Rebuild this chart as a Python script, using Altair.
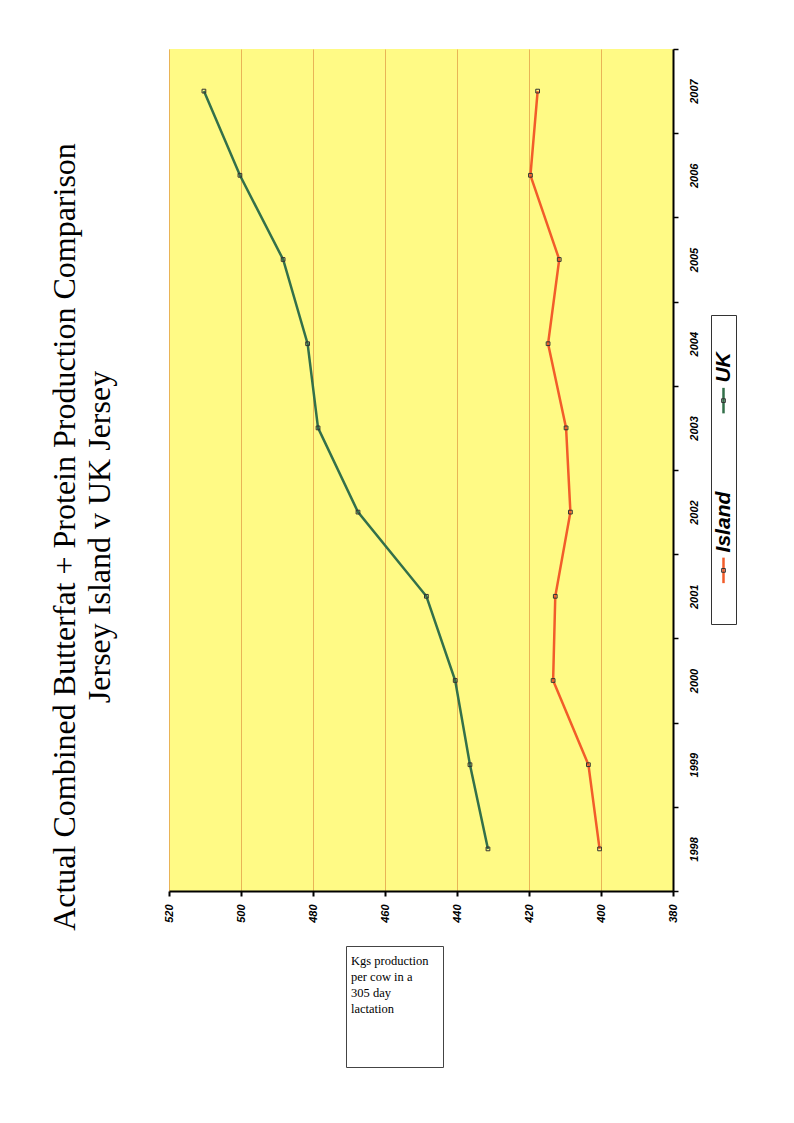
import altair as alt
import pandas as pd

# ---- data ----
years = ["1998", "1999", "2000", "2001", "2002", "2003", "2004", "2005", "2006", "2007"]
uk_values = [431.4, 436.4, 440.5, 448.5, 467.5, 478.6, 481.5, 488.3, 500.3, 510.3]
island_values = [400.4, 403.5, 413.3, 412.7, 408.5, 409.7, 414.7, 411.6, 419.6, 417.6]
series_names = ["Island", "UK"]
series_colors = ["#F25C2A", "#33704A"]
legend_order = ["UK", "Island"]
value_ticks = [380, 400, 420, 440, 460, 480, 500, 520]
title_lines = ["Actual Combined Butterfat + Protein Production Comparison",
               "Jersey Island v UK Jersey"]
note_text = "Kgs production\nper cow in a\n305 day\nlactation"

rows = []
for yr, u, i in zip(years, uk_values, island_values):
    rows.append({"year": yr, "series": "Island", "value": i})
    rows.append({"year": yr, "series": "UK", "value": u})
df = pd.DataFrame(rows)

color_scale = alt.Scale(domain=series_names, range=series_colors)
lab = dict(labelFont="Liberation Sans", labelFontSize=11, labelFontWeight="bold",
           labelFontStyle="italic", labelColor="black")

x_enc = alt.X(
    "value:Q",
    scale=alt.Scale(domain=[380, 520], reverse=True, nice=False, zero=False),
    axis=alt.Axis(values=value_ticks, labelAngle=270, labelAlign="right",
                  labelBaseline="middle", labelPadding=8, domainColor="black",
                  domainWidth=2, tickColor="black", tickWidth=2, tickSize=5,
                  grid=True, gridColor="#E3A24A", gridWidth=0.8, title=None, **lab),
)
y_enc = alt.Y(
    "year:N", sort="descending", bandPosition=0.5,
    scale=alt.Scale(type="band", paddingInner=0, paddingOuter=0),
    axis=alt.Axis(orient="right", labelAngle=270, labelAlign="center",
                  labelBaseline="top", labelPadding=10, tickBand="extent",
                  domainColor="black", domainWidth=2, tickColor="black",
                  tickWidth=1.5, tickSize=5, grid=False, title=None, **lab),
)

lines = alt.Chart().mark_line(strokeWidth=2.5).encode(
    x=x_enc, y=y_enc,
    color=alt.Color("series:N", scale=color_scale, legend=None),
    detail="series:N",
)
markers = alt.Chart().mark_point(shape="square", size=14, filled=False,
                                 color="#333333", strokeWidth=1, opacity=1).encode(
    x=alt.X("value:Q"), y=alt.Y("year:N", sort="descending", bandPosition=0.5),
    detail="series:N",
)

main = alt.layer(lines, markers, data=df).properties(
    width=504, height=842,
    view=alt.ViewBackground(fill="#FFFA85", stroke=None),
    title=alt.TitleParams(title_lines, orient="left", anchor="middle",
                          font="Liberation Serif", fontSize=32, fontWeight="normal",
                          color="black", lineHeight=35, offset=46, dx=-67),
)

# ---- rotated legend ----
leg_df = pd.DataFrame({"series": legend_order})
leg_y = alt.Y("series:N", sort=legend_order, axis=None,
              scale=alt.Scale(type="point", padding=0.41))
leg_sym = alt.Chart().mark_point(shape="M0,-1L0,1", size=650, filled=False,
                                 strokeWidth=2.5, opacity=1, yOffset=16).encode(
    y=leg_y, color=alt.Color("series:N", scale=color_scale, legend=None))
leg_box = alt.Chart().mark_point(shape="square", size=14, filled=False,
                                 color="#333333", strokeWidth=1, opacity=1,
                                 yOffset=16).encode(y=leg_y)
leg_txt = alt.Chart().mark_text(angle=270, align="left", baseline="middle",
                                font="Liberation Sans", fontSize=21,
                                fontWeight="bold", fontStyle="italic",
                                color="black", yOffset=-2).encode(
    y=leg_y, text="series:N")
legend = alt.layer(leg_sym, leg_box, leg_txt, data=leg_df).properties(
    width=25, height=309,
    view=alt.ViewBackground(fill="white", stroke="#333333", strokeWidth=1))

blank = pd.DataFrame({"t": [""]})
leg_spacer = alt.Chart(blank).mark_text().encode(text="t:N").properties(
    width=25, height=265, view=alt.ViewBackground(stroke=None))
legend_col = alt.vconcat(leg_spacer, legend, spacing=0)

# ---- note box ----
note = alt.Chart(pd.DataFrame({"t": [note_text]})).mark_text(
    align="left", baseline="alphabetic", font="Liberation Serif", fontSize=12.5,
    lineHeight=16, lineBreak="\n", color="black").encode(
    text="t:N", x=alt.value(5), y=alt.value(19)).properties(
    width=97, height=121,
    view=alt.ViewBackground(fill="white", stroke="#444444", strokeWidth=1))
note_spacer = alt.Chart(blank).mark_text().encode(text="t:N").properties(
    width=161, height=20, view=alt.ViewBackground(stroke=None))

row1 = alt.hconcat(main, legend_col, spacing=11)
row2 = alt.hconcat(note_spacer, note, spacing=15)
chart = alt.vconcat(row1, row2, spacing=14).properties(
    padding={"left": 40, "top": 40, "right": 5, "bottom": 5}
).configure(background="white")

chart.save("out.html", embed_options={"renderer": "svg", "actions": False})
